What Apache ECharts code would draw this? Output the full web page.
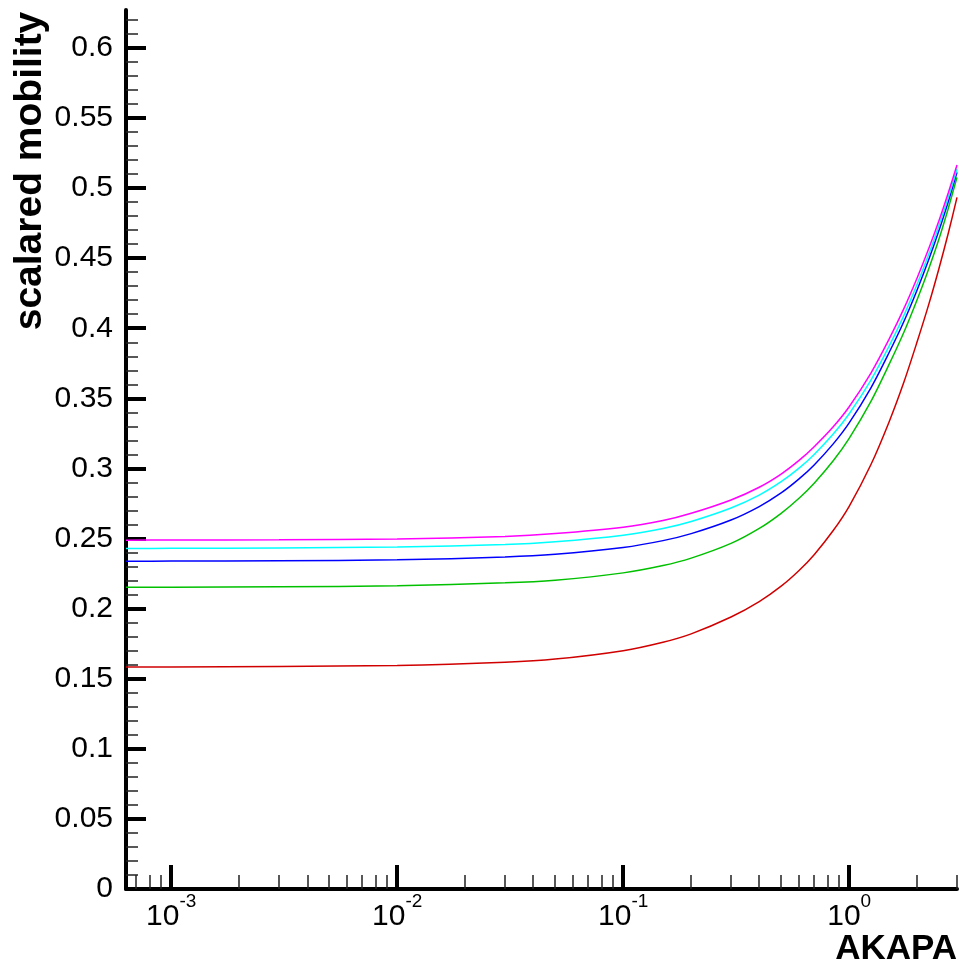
<!DOCTYPE html>
<html>
<head>
<meta charset="utf-8">
<script src="https://cdn.jsdelivr.net/npm/echarts@6/dist/echarts.min.js"></script>
<style>
html,body{margin:0;padding:0;background:#fff;}
#chart{width:960px;height:969px;}
</style>
</head>
<body>
<div id="chart"></div>
<script>
// AKAPA sample points
var akapa = [0.000631, 0.001, 0.003, 0.01, 0.03, 0.05, 0.1, 0.15, 0.2, 0.3, 0.4, 0.5, 0.6, 0.7, 0.85,
             1.0, 1.25, 1.5, 1.75, 2.0, 2.25, 2.5, 2.75, 3.0];
// scalared mobility curves
var magentaVals = [0.2488, 0.2489, 0.2491, 0.2497, 0.2515, 0.2535, 0.2580, 0.2628, 0.2680, 0.2775, 0.2866, 0.2960, 0.3057, 0.3155, 0.3297,
                   0.3440, 0.3682, 0.3920, 0.4143, 0.4360, 0.4568, 0.4770, 0.4970, 0.5164];
var cyanVals    = [0.2429, 0.2430, 0.2433, 0.2439, 0.2457, 0.2477, 0.2524, 0.2572, 0.2622, 0.2718, 0.2810, 0.2905, 0.3002, 0.3100, 0.3245,
                   0.3390, 0.3632, 0.3870, 0.4095, 0.4315, 0.4527, 0.4735, 0.4937, 0.5136];
var blueVals    = [0.2338, 0.2339, 0.2342, 0.2348, 0.2368, 0.2387, 0.2436, 0.2485, 0.2535, 0.2632, 0.2728, 0.2825, 0.2925, 0.3025, 0.3175,
                   0.3325, 0.3577, 0.3825, 0.4052, 0.4275, 0.4490, 0.4700, 0.4908, 0.5112];
var greenVals   = [0.2152, 0.2153, 0.2156, 0.2163, 0.2184, 0.2203, 0.2255, 0.2307, 0.2360, 0.2465, 0.2572, 0.2680, 0.2787, 0.2895, 0.3055,
                   0.3215, 0.3480, 0.3740, 0.3975, 0.4205, 0.4425, 0.4640, 0.4860, 0.5076];
var redVals     = [0.1583, 0.1584, 0.1588, 0.1595, 0.1618, 0.1640, 0.1700, 0.1760, 0.1820, 0.1940, 0.2050, 0.2160, 0.2272, 0.2385, 0.2557,
                   0.2730, 0.3030, 0.3330, 0.3620, 0.3905, 0.4170, 0.4430, 0.4683, 0.4933];

// tick values
var xMajorTicks = [0.001, 0.01, 0.1, 1];
var xMinorTicks = [0.0007, 0.0008, 0.0009,
  0.002, 0.003, 0.004, 0.005, 0.006, 0.007, 0.008, 0.009,
  0.02, 0.03, 0.04, 0.05, 0.06, 0.07, 0.08, 0.09,
  0.2, 0.3, 0.4, 0.5, 0.6, 0.7, 0.8, 0.9,
  2, 3];
var yMajorTicks = [0, 0.05, 0.1, 0.15, 0.2, 0.25, 0.3, 0.35, 0.4, 0.45, 0.5, 0.55, 0.6];
var yMinorTicks = [0.01, 0.02, 0.03, 0.04, 0.06, 0.07, 0.08, 0.09,
  0.11, 0.12, 0.13, 0.14, 0.16, 0.17, 0.18, 0.19,
  0.21, 0.22, 0.23, 0.24, 0.26, 0.27, 0.28, 0.29,
  0.31, 0.32, 0.33, 0.34, 0.36, 0.37, 0.38, 0.39,
  0.41, 0.42, 0.43, 0.44, 0.46, 0.47, 0.48, 0.49,
  0.51, 0.52, 0.53, 0.54, 0.56, 0.57, 0.58, 0.59,
  0.61, 0.62];

var FONT = 'Liberation Sans, Arial, Helvetica, sans-serif';
var X_MIN = 0.000631, X_MAX = 3, Y_MIN = 0, Y_MAX = 0.627;

function pairs(vals) {
  return akapa.map(function (x, i) { return [x, vals[i]]; });
}
function lineSeries(name, vals, color) {
  return {
    name: name, type: 'line', xAxisIndex: 0, yAxisIndex: 0,
    data: pairs(vals), smooth: 0.3, showSymbol: false, symbol: 'none',
    lineStyle: { color: color, width: 1.5 }, z: 3
  };
}

var chart = echarts.init(document.getElementById('chart'), null, { renderer: 'canvas' });
chart.setOption({
  backgroundColor: '#ffffff',
  animation: false,
  grid: { left: 126, right: 3, top: 10, bottom: 80, containLabel: false, outerBoundsMode: 'none' },
  xAxis: [
    {
      type: 'log', logBase: 10, min: X_MIN, max: X_MAX,
      axisLine: { show: true, onZero: false, lineStyle: { color: '#000', width: 4 } },
      axisTick: { show: true, inside: true, length: 24, customValues: xMajorTicks,
        lineStyle: { color: '#000', width: 4 } },
      axisLabel: { show: true, margin: 3, customValues: xMajorTicks,
        formatter: function (v) {
          var e = Math.round(Math.log(v) / Math.LN10);
          return '{b|10}{s|' + e + '}';
        },
        rich: {
          b: { fontFamily: FONT, fontSize: 30, color: '#000', lineHeight: 40, verticalAlign: 'bottom' },
          s: { fontFamily: FONT, fontSize: 19, color: '#000', lineHeight: 18, verticalAlign: 'top' }
        }
      },
      splitLine: { show: false }, minorTick: { show: false }
    },
    {
      type: 'log', logBase: 10, min: X_MIN, max: X_MAX, position: 'bottom',
      axisLine: { show: false },
      axisTick: { show: true, inside: true, length: 14, customValues: xMinorTicks,
        lineStyle: { color: '#222', width: 1.5 } },
      axisLabel: { show: false },
      splitLine: { show: false }
    }
  ],
  yAxis: [
    {
      type: 'value', min: Y_MIN, max: Y_MAX,
      axisLine: { show: true, onZero: false, lineStyle: { color: '#000', width: 4 } },
      axisTick: { show: true, inside: true, length: 20, customValues: yMajorTicks,
        lineStyle: { color: '#000', width: 4 } },
      axisLabel: { show: true, margin: 13, customValues: yMajorTicks,
        fontFamily: FONT, fontSize: 30, color: '#000' },
      splitLine: { show: false }
    },
    {
      type: 'value', min: Y_MIN, max: Y_MAX, position: 'left',
      axisLine: { show: false },
      axisTick: { show: true, inside: true, length: 12, customValues: yMinorTicks,
        lineStyle: { color: '#222', width: 1.5 } },
      axisLabel: { show: false },
      splitLine: { show: false }
    }
  ],
  graphic: [
    {
      type: 'text', x: 30, y: 171, rotation: Math.PI / 2,
      style: { text: 'scalared mobility', fontFamily: FONT, fontSize: 39, fontWeight: 'bold',
        fill: '#000', align: 'center', verticalAlign: 'middle' }
    },
    {
      type: 'text', x: 957, y: 949,
      style: { text: 'AKAPA', fontFamily: FONT, fontSize: 35, fontWeight: 'bold',
        fill: '#000', align: 'right', verticalAlign: 'middle' }
    }
  ],
  series: [
    lineSeries('red', redVals, '#d00000'),
    lineSeries('green', greenVals, '#00c000'),
    lineSeries('blue', blueVals, '#0000ff'),
    lineSeries('cyan', cyanVals, '#00ffff'),
    lineSeries('magenta', magentaVals, '#ff00ff')
  ]
});
</script>
</body>
</html>
